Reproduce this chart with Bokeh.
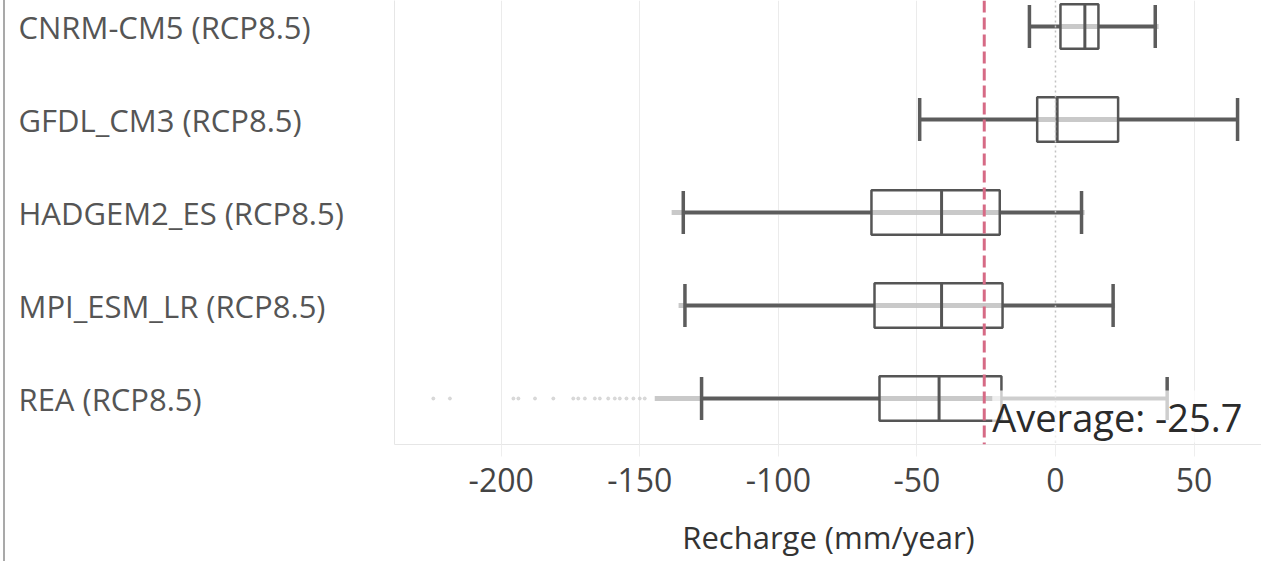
from bokeh.plotting import figure
from bokeh.layouts import row
from bokeh.models import Range1d, FixedTicker, Span, Label, ColumnDataSource
from bokeh.core.properties import value
from bokeh.embed import file_html
from bokeh.resources import INLINE

# ---- data ----
models = ["CNRM-CM5 (RCP8.5)", "GFDL_CM3 (RCP8.5)", "HADGEM2_ES (RCP8.5)",
          "MPI_ESM_LR (RCP8.5)", "REA (RCP8.5)"]
whisker_low = [-9.4, -49.0, -134.3, -133.7, -127.7]
q1 = [1.8, -6.6, -66.4, -65.3, -63.5]
median = [10.6, 0.6, -41.1, -41.1, -42.0]
q3 = [15.5, 22.6, -20.1, -19.1, -19.5]
whisker_high = [36.0, 65.7, 9.4, 20.8, 40.3]
points_min = [-9.6, -49.5, -138.5, -136.0, -144.6]
points_max = [37.2, 66.0, 10.5, 21.5, 40.3]
rea_outliers = [-224.5, -218.5, -195.6, -193.8, -187.8, -181.2, -174.0, -172.2,
                -169.8, -166.2, -164.4, -161.4, -159.0, -157.2, -154.8, -152.3,
                -150.0, -148.2]
average = -25.7
x_ticks = [-200, -150, -100, -50, 0, 50]
x_title = "Recharge (mm/year)"

# ---- styling ----
FONT = "Open Sans"
DARK = "#5c5c5c"
BOX_H = 0.48
CAP_H = 0.46
H = 561
BOTTOM = 117
LEFT_W = 371
MAIN_W = 888

n = len(models)
rows = list(range(n))
src = ColumnDataSource(dict(
    row=rows, lo=whisker_low, q1=q1, med=median, q3=q3, hi=whisker_high,
    pmin=points_min, pmax=points_max,
    cap_top=[r - CAP_H / 2 for r in rows], cap_bot=[r + CAP_H / 2 for r in rows],
    box_top=[r - BOX_H / 2 for r in rows], box_bot=[r + BOX_H / 2 for r in rows],
))

y_range = Range1d(4.4946, -0.2796)

# ---- label panel ----
pl = figure(width=LEFT_W, height=H, x_range=Range1d(0, LEFT_W), y_range=y_range,
            output_backend="svg", toolbar_location=None,
            min_border_left=0, min_border_right=0, min_border_top=0,
            min_border_bottom=BOTTOM)
pl.axis.visible = False
pl.grid.visible = False
pl.outline_line_color = None
pl.styles = {"margin-left": "3px", "border-left": "2px solid #a9a9a9"}
pl.text(x=[13] * n, y=rows, text=models, text_font=value(FONT),
        text_font_size="31px", text_color="#555555", text_align="left",
        text_baseline="middle")

# ---- main plot ----
p = figure(width=MAIN_W, height=H,
           x_range=Range1d(-238.5, 74.7), y_range=y_range,
           output_backend="svg", toolbar_location=None,
           min_border_left=20, min_border_right=0, min_border_top=0,
           min_border_bottom=BOTTOM)
p.outline_line_color = None

p.ygrid.visible = False
p.xgrid.ticker = FixedTicker(ticks=[t for t in x_ticks if t != 0])
p.xgrid.grid_line_color = "#ebebeb"

p.xaxis.ticker = FixedTicker(ticks=x_ticks)
p.xaxis.major_label_overrides = {t: str(t) for t in x_ticks}
p.xaxis.axis_line_color = "#e6e6e6"
p.xaxis.major_tick_line_color = "#eeeeee"
p.xaxis.major_tick_in = 0
p.xaxis.major_tick_out = 12
p.xaxis.minor_tick_line_color = None
p.xaxis.major_label_text_font = FONT
p.xaxis.major_label_text_font_size = "32px"
p.xaxis.major_label_text_color = "#444444"
p.xaxis.major_label_standoff = 11
p.xaxis.axis_label = x_title
p.xaxis.axis_label_text_font = FONT
p.xaxis.axis_label_text_font_size = "31px"
p.xaxis.axis_label_text_font_style = "normal"
p.xaxis.axis_label_text_color = "#333333"
p.xaxis.axis_label_standoff = 21

p.yaxis.ticker = FixedTicker(ticks=[])
p.yaxis.axis_line_color = "#e6e6e6"
p.yaxis.major_tick_line_color = None
p.yaxis.minor_tick_line_color = None
p.yaxis.major_label_text_font_size = "0px"

p.add_layout(Span(location=0, dimension="height", line_color="#c2c2c2",
                  line_dash="2 3", line_width=1.5))

p.segment(x0="pmin", y0="row", x1="pmax", y1="row", source=src,
          line_color="#c3c3c3", line_width=5, line_alpha=0.9)
p.scatter(x=rea_outliers, y=[n - 1] * len(rea_outliers), size=3,
          marker="circle", color="#cccccc", alpha=0.7)

p.segment(x0="lo", y0="row", x1="q1", y1="row", source=src,
          line_color=DARK, line_width=3.5)
p.segment(x0="q3", y0="row", x1="hi", y1="row", source=src,
          line_color=DARK, line_width=3.5)
p.segment(x0="lo", y0="cap_top", x1="lo", y1="cap_bot", source=src,
          line_color=DARK, line_width=3.5)
p.segment(x0="hi", y0="cap_top", x1="hi", y1="cap_bot", source=src,
          line_color=DARK, line_width=3.5)

p.hbar(y="row", left="q1", right="q3", height=BOX_H, source=src,
       fill_color=None, line_color="#555555", line_width=2.5)
p.segment(x0="med", y0="box_top", x1="med", y1="box_bot", source=src,
          line_color="#555555", line_width=3)

p.add_layout(Span(location=average, dimension="height", line_color="#d66a85",
                  line_dash="12 5", line_width=3))
p.add_layout(Label(x=average, y=n - 1, x_offset=8, y_offset=-18,
                   text=f"Average: {average}", text_font=FONT,
                   text_font_size="38px", text_color="#2b2b2b",
                   text_baseline="alphabetic", text_align="left",
                   background_fill_color="white", background_fill_alpha=0.7))

open("out.html", "w").write(file_html(row(pl, p), INLINE))
